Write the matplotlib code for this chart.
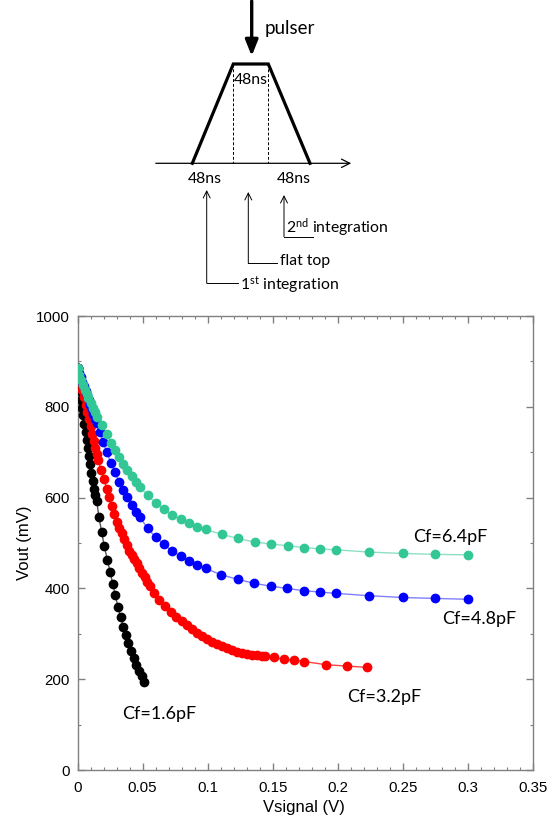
import numpy as np
import matplotlib
matplotlib.use('Agg')
import matplotlib.pyplot as plt
from matplotlib.ticker import MultipleLocator, FormatStrFormatter

plt.rcParams['mathtext.fontset'] = 'custom'
plt.rcParams['mathtext.rm'] = 'Lato'
plt.rcParams['mathtext.it'] = 'Lato'

# Cf = 1.6pF
v_16 = [0, 0.0007, 0.0014, 0.0021, 0.0029, 0.0037, 0.0045, 0.0053, 0.0061, 0.0069,
        0.0078, 0.0087, 0.0096, 0.0105, 0.0115, 0.0125, 0.0136, 0.0147, 0.0164, 0.0185,
        0.0205, 0.0229, 0.0250, 0.0270, 0.0290, 0.0310, 0.0330, 0.0350, 0.0370, 0.0390,
        0.0410, 0.0430, 0.0450, 0.0471, 0.0493, 0.0513]
out_16 = [885, 868, 851, 834, 816, 798, 781, 763, 745, 727,
          709, 691, 673, 655, 637, 619, 605, 593, 557, 525,
          493, 463, 437, 410, 385, 360, 337, 316, 297, 279,
          262, 246, 231, 219, 208, 193]

# Cf = 3.2pF
v_32 = [0, 0.00125, 0.0025, 0.00375, 0.005, 0.00625, 0.0075, 0.00875, 0.0100, 0.01125,
        0.0125, 0.01375, 0.0148, 0.0159, 0.0180, 0.0203, 0.0224, 0.0241, 0.0262, 0.0282,
        0.0300, 0.0318, 0.0339, 0.0359, 0.0377, 0.0397, 0.0416, 0.0436, 0.0454, 0.0474,
        0.0495, 0.0515, 0.0535, 0.0556, 0.0587, 0.0628, 0.0672, 0.0716, 0.0756, 0.0800,
        0.0838, 0.0877, 0.0915, 0.0954, 0.0992, 0.1031, 0.1069, 0.1108, 0.1146, 0.1184,
        0.1223, 0.1261, 0.1300, 0.1338, 0.1377, 0.1415, 0.1440, 0.1510, 0.1589, 0.1666,
        0.1743, 0.1909, 0.2068, 0.2227]
out_32 = [885, 869, 853, 837, 821, 805, 789, 773, 757, 741,
          725, 710, 697, 683, 661, 640, 620, 601, 581, 564,
          547, 534, 521, 508, 496, 483, 473, 464, 455, 446,
          435, 425, 415, 405, 389, 374, 361, 349, 338, 328,
          319, 311, 302, 295, 289, 283, 278, 273, 269, 264,
          261, 258, 256, 254, 253, 251, 251, 248, 244, 242,
          239, 232, 229, 226]

# Cf = 4.8pF
v_48 = [0, 0.0012, 0.0024, 0.0037, 0.0049, 0.0061, 0.0073, 0.0086, 0.0098, 0.0110,
        0.0122, 0.0135, 0.0147, 0.0172, 0.0197, 0.0224, 0.0257, 0.0287, 0.0318, 0.0351,
        0.0382, 0.0416, 0.0447, 0.0480, 0.0539, 0.0600, 0.0664, 0.0728, 0.0792, 0.0856,
        0.0920, 0.0985, 0.1104, 0.1231, 0.1360, 0.1487, 0.1611, 0.1738, 0.1863, 0.1991,
        0.2240, 0.2499, 0.2749, 0.3003]
out_48 = [885, 875, 865, 855, 845, 835, 825, 815, 805, 795,
          785, 774, 764, 744, 723, 700, 676, 656, 635, 617,
          601, 584, 569, 557, 532, 513, 497, 482, 471, 461,
          452, 444, 430, 420, 411, 405, 400, 395, 392, 389,
          384, 380, 378, 376]

# Cf = 6.4pF
v_64 = [0, 0.0013, 0.0026, 0.0039, 0.0057, 0.0070, 0.0082, 0.0101, 0.0116, 0.0134,
        0.0151, 0.0187, 0.0224, 0.0257, 0.0287, 0.0321, 0.0351, 0.0382, 0.0416, 0.0447,
        0.0480, 0.0539, 0.0600, 0.0664, 0.0728, 0.0792, 0.0856, 0.0920, 0.0985, 0.1108,
        0.1235, 0.1362, 0.1487, 0.1615, 0.1742, 0.1863, 0.1991, 0.2240, 0.2499, 0.2749,
        0.3003]
out_64 = [885, 870, 859, 848, 837, 828, 819, 808, 797, 788,
          778, 760, 740, 721, 705, 689, 674, 661, 648, 635,
          624, 605, 589, 575, 562, 552, 543, 536, 530, 519,
          510, 502, 498, 494, 490, 487, 485, 480, 477, 475,
          474]

series = [
    (v_16, out_16, 'black', '#555555', 'Cf=1.6pF', (0.034, 123)),
    (v_32, out_32, '#ff0000', '#ff4040', 'Cf=3.2pF', (0.207, 161)),
    (v_48, out_48, '#0000ff', '#8080ff', 'Cf=4.8pF', (0.280, 333)),
    (v_64, out_64, '#33c795', '#8fe0c2', 'Cf=6.4pF', (0.258, 513)),
]

fig = plt.figure(figsize=(5.57, 8.17), dpi=100)

# --- timing sketch on top (pixel coords) ---
d = fig.add_axes([0, 0, 1, 1])
d.set_xlim(0, 557)
d.set_ylim(817, 0)
d.axis('off')
d.patch.set_alpha(0)

tf = 'Lato'
base_y = 163.3
top_y = 64
trap_x = [192.3, 233.3, 268.3, 310.0]
d.plot([trap_x[0], trap_x[1], trap_x[2], trap_x[3]], [base_y, top_y, top_y, base_y],
       color='black', lw=2.3, solid_joinstyle='miter')
d.plot([trap_x[1], trap_x[1]], [top_y, base_y], color='black', lw=0.7, ls=(0, (3, 2)))
d.plot([trap_x[2], trap_x[2]], [top_y, base_y], color='black', lw=0.7, ls=(0, (3, 2)))
d.annotate('', xy=(354, base_y), xytext=(153, base_y),
           arrowprops=dict(arrowstyle='->,head_length=0.6,head_width=0.3', lw=0.9, color='black'))
d.annotate('', xy=(251.7, 56), xytext=(251.7, 1),
           arrowprops=dict(arrowstyle='-|>,head_length=0.95,head_width=0.38', lw=2.4,
                           color='black', shrinkA=0, shrinkB=0))
d.text(265, 28, 'pulser', fontsize=13.5, family=tf, va='center', ha='left')
d.text(251, 80, '48ns', fontsize=11.3, family=tf, va='center', ha='center')
d.text(205, 179, '48ns', fontsize=11.3, family=tf, va='center', ha='center')
d.text(294, 179, '48ns', fontsize=11.3, family=tf, va='center', ha='center')

aw = dict(arrowstyle='->,head_length=0.5,head_width=0.25', lw=0.7, color='black',
          shrinkA=0, shrinkB=0)
# 1st integration
d.annotate('', xy=(206.7, 190), xytext=(206.7, 283.3), arrowprops=aw)
d.plot([206.7, 238.3], [283.3, 283.3], color='black', lw=0.7)
d.text(240, 285, r'1$^{\mathrm{st}}$ integration', fontsize=11.3, family=tf, va='center', ha='left')
# flat top
d.annotate('', xy=(248.3, 192), xytext=(248.3, 263.3), arrowprops=aw)
d.plot([248.3, 276.7], [263.3, 263.3], color='black', lw=0.7)
d.text(280, 261, 'flat top', fontsize=11.3, family=tf, va='center', ha='left')
# 2nd integration
d.annotate('', xy=(284, 195), xytext=(284, 236.7), arrowprops=aw)
d.plot([284, 313.3], [236.7, 236.7], color='black', lw=0.7)
d.text(286.5, 228, r'2$^{\mathrm{nd}}$ integration', fontsize=11.3, family=tf, va='center', ha='left')

# --- main plot ---
ax = fig.add_axes([0.1393, 0.0575, 0.8171, 0.5557])
for vx, vy, mc, lc, lab, pos in series:
    ax.plot(vx, vy, '-', color=lc, lw=1.0, zorder=2)
    ax.plot(vx, vy, 'o', color=mc, ms=6.0, mec=mc, zorder=3)
    ax.text(pos[0], pos[1], lab, fontsize=13, family=tf, va='center', ha='left')

ax.set_xlim(0, 0.35)
ax.set_ylim(0, 1000)
ax.xaxis.set_major_locator(MultipleLocator(0.05))
ax.xaxis.set_minor_locator(MultipleLocator(0.01))
ax.yaxis.set_major_locator(MultipleLocator(200))
ax.yaxis.set_minor_locator(MultipleLocator(100))
ax.xaxis.set_major_formatter(FormatStrFormatter('%g'))
ax.yaxis.set_major_formatter(FormatStrFormatter('%g'))
for s in ax.spines.values():
    s.set_color('#808080')
    s.set_linewidth(1.0)
ax.tick_params(which='both', direction='in', top=True, right=True, colors='#808080',
               labelcolor='black', labelsize=10.8)
ax.tick_params(which='major', length=5, width=1.0)
ax.tick_params(which='minor', length=2.5, width=0.8)
ax.tick_params(axis='x', pad=8)
ax.tick_params(axis='y', pad=5.5)
for t in ax.get_xticklabels() + ax.get_yticklabels():
    t.set_family('Liberation Sans')
ax.set_xlabel('Vsignal (V)', fontsize=12, family='Liberation Sans')
ax.set_ylabel('Vout (mV)', fontsize=12, family='Liberation Sans')
ax.xaxis.set_label_coords(0.4975, -0.066)
ax.yaxis.set_label_coords(-0.0995, 0.5)

fig.savefig('out.png', dpi=100)
